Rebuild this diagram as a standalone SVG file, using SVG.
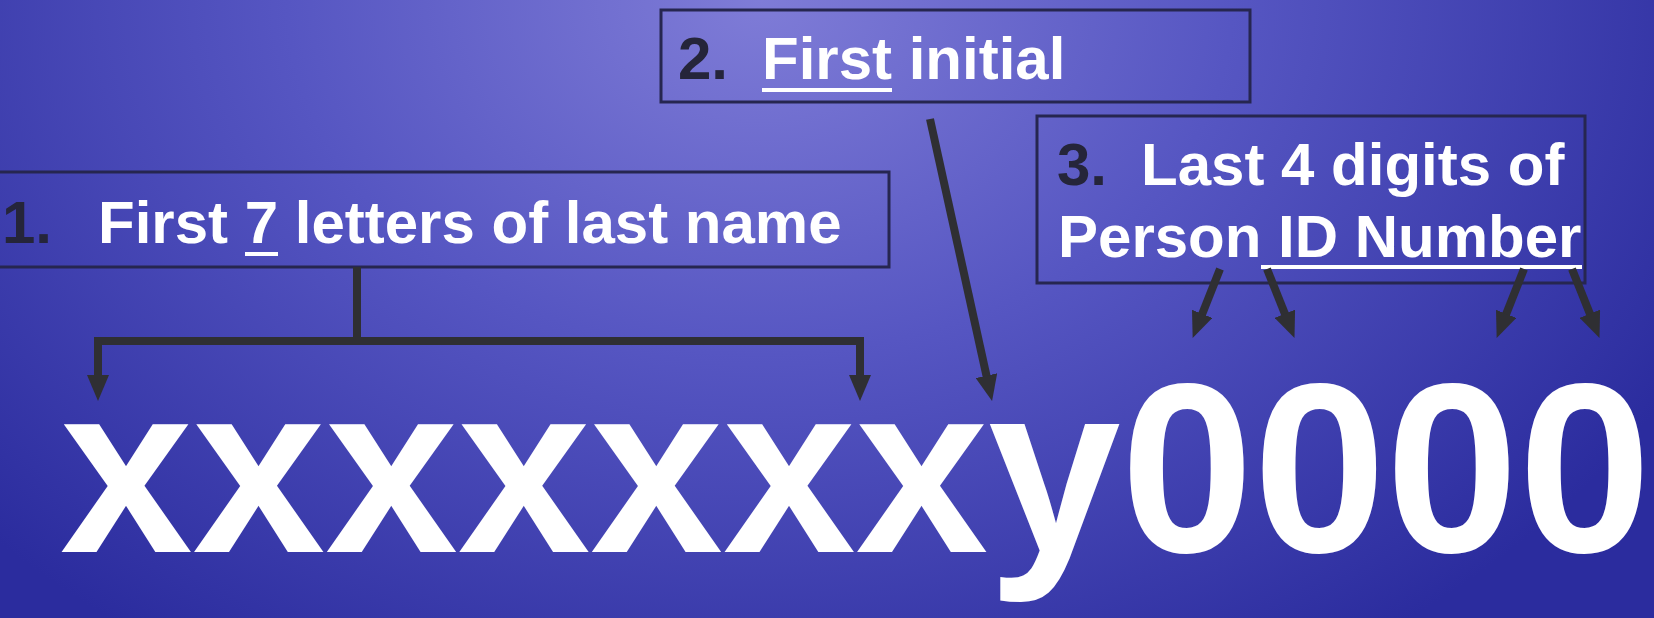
<svg xmlns="http://www.w3.org/2000/svg" width="1654" height="618" viewBox="0 0 1654 618">
  <defs>
    <radialGradient id="bg" cx="760" cy="0" r="1050" gradientUnits="userSpaceOnUse" gradientTransform="translate(760 0) scale(1 0.75) translate(-760 0)">
      <stop offset="0" stop-color="#7f7cd7"/>
      <stop offset="0.45" stop-color="#5656c2"/>
      <stop offset="1" stop-color="#2b2c9e"/>
    </radialGradient>
    <marker id="head" viewBox="0 -11 26 22" markerWidth="26" markerHeight="22" markerUnits="userSpaceOnUse" refX="2" refY="0" orient="auto">
      <path d="M0,-11 L26,0 L0,11 z" fill="#2f2f33"/>
    </marker>
  </defs>
  <style>
    .box { fill: none; stroke: #262650; stroke-width: 3; }
    .lbl { font-family: "Liberation Sans", Arial, sans-serif; font-weight: bold; font-size: 60px; fill: #ffffff; }
    .num { font-family: "Liberation Sans", Arial, sans-serif; font-weight: bold; font-size: 60px; fill: #25253a; }
    .uline { stroke: #ffffff; stroke-width: 4; }
    .conn { fill: none; stroke: #2f2f33; stroke-width: 8; stroke-linejoin: miter; marker-end: url(#head); }
    .big { font-family: "Liberation Sans", Arial, sans-serif; font-weight: bold; font-size: 242px; fill: #ffffff; }
  </style>

  <rect width="1654" height="618" fill="url(#bg)"/>

  <!-- Part 1: last name -->
  <g id="node-lastname">
    <rect class="box" x="-3" y="172" width="892" height="95"/>
    <text class="num" x="2" y="243">1.</text>
    <text class="lbl" x="98" y="243">First 7 letters of last name</text>
    <line class="uline" x1="245" y1="254" x2="278" y2="254"/>
  </g>

  <!-- Part 2: first initial -->
  <g id="node-initial">
    <rect class="box" x="661" y="10" width="589" height="92"/>
    <text class="num" x="678" y="79">2.</text>
    <text class="lbl" x="762" y="79">First initial</text>
    <line class="uline" x1="762" y1="90" x2="892" y2="90"/>
  </g>

  <!-- Part 3: person ID digits -->
  <g id="node-digits">
    <rect class="box" x="1037" y="116" width="548" height="167"/>
    <text class="num" x="1057" y="185">3.</text>
    <text class="lbl" x="1141" y="185">Last 4 digits of</text>
    <text class="lbl" x="1058" y="257">Person ID Number</text>
    <line class="uline" x1="1261" y1="267" x2="1582" y2="267"/>
  </g>

  <!-- Resulting username -->
  <g id="node-username">
    <text class="big" x="60" y="552" textLength="1591" lengthAdjust="spacingAndGlyphs">xxxxxxxy0000</text>
  </g>

  <g id="connectors">
    <path class="conn" d="M357,267 V341 H98 V377"/>
    <path class="conn" d="M357,341 H860 V377"/>
    <path class="conn" d="M930,119 L986.9,377.6"/>
    <path class="conn" d="M1220,269 L1201.5,315.7"/>
    <path class="conn" d="M1267,269 L1285.6,315.6"/>
    <path class="conn" d="M1524,269 L1505.5,315.7"/>
    <path class="conn" d="M1572,269 L1590.6,315.6"/>
  </g>
</svg>
